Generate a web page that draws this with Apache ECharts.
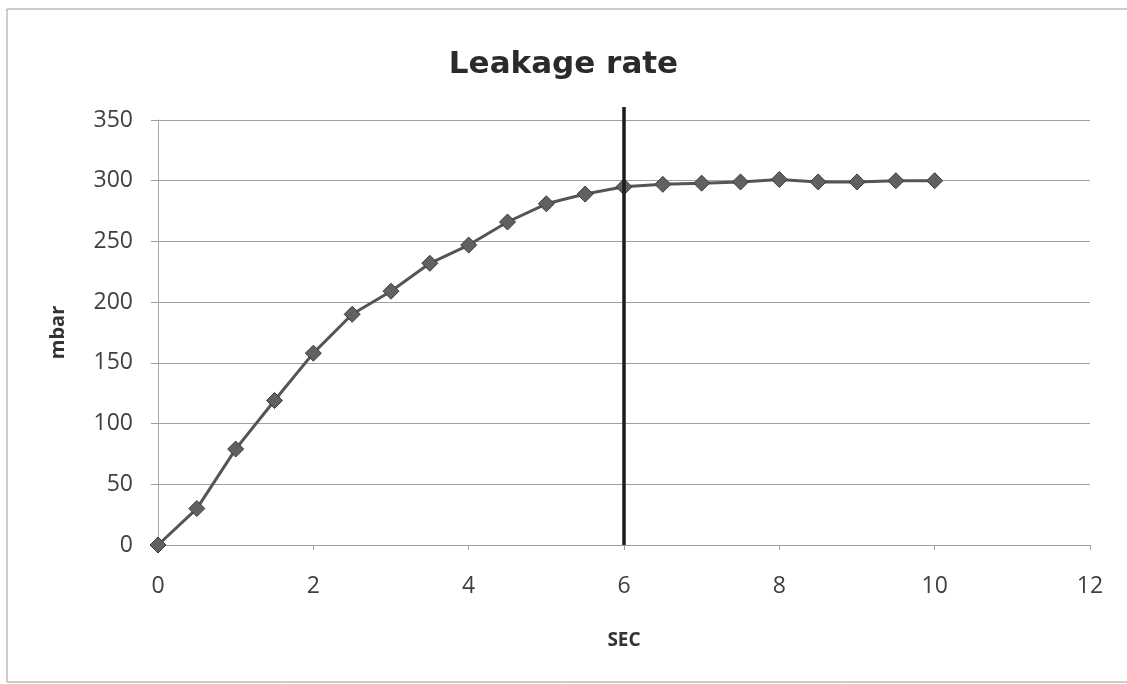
<!DOCTYPE html>
<html>
<head>
<meta charset="utf-8">
<script src="https://cdn.jsdelivr.net/npm/echarts@6/dist/echarts.min.js"></script>
<style>
html,body{margin:0;padding:0;background:#fff;}
#c{width:1127px;height:684px;}
</style>
</head>
<body>
<div id="c"></div>
<script>
const titleText = "Leakage rate";
const xName = "SEC";
const yName = "mbar";
const seconds = [0,0.5,1,1.5,2,2.5,3,3.5,4,4.5,5,5.5,6,6.5,7,7.5,8,8.5,9,9.5,10];
const mbar = [0,30,79,119,158,190,209,232,247,266,281,289,295,297,298,299,301,299,299,300,300];
const markerX = [6, 6];
const markerY = [0, 1];

const chart = echarts.init(document.getElementById('c'));
const tickFont = { fontFamily: 'Open Sans', fontSize: 23, color: '#404040' };
chart.setOption({
  backgroundColor: '#fff',
  animation: false,
  title: {
    text: titleText, left: 'center', top: 44,
    textStyle: { fontFamily: 'DejaVu Sans', fontWeight: 'bold', fontSize: 31, color: '#2a2a2a' }
  },
  graphic: [{
    type: 'rect', shape: { x: 7, y: 9, width: 1160, height: 673 },
    style: { fill: 'none', stroke: '#9a9a9a', lineWidth: 1 }, silent: true, z: -10
  }],
  grid: [
    { left: 158, right: 37, top: 120, bottom: 139 },
    { left: 158, right: 37, top: 107, bottom: 139 }
  ],
  xAxis: [{
    type: 'value', gridIndex: 0, min: 0, max: 12, interval: 2,
    name: xName, nameLocation: 'middle', nameGap: 86,
    nameTextStyle: { fontFamily: 'Open Sans', fontWeight: 'bold', fontSize: 19, color: '#333' },
    axisLine: { show: true, lineStyle: { color: '#a0a0a0', width: 1 } },
    axisTick: { show: true, inside: false, length: 5, lineStyle: { color: '#a0a0a0' } },
    axisLabel: Object.assign({ margin: 30 }, tickFont),
    splitLine: { show: false }
  }, {
    type: 'value', gridIndex: 1, min: 0, max: 12, interval: 2, show: false
  }],
  yAxis: [{
    type: 'value', gridIndex: 0, min: 0, max: 350, interval: 50,
    name: yName, nameLocation: 'middle', nameGap: 90, nameRotate: 90,
    nameTextStyle: { fontFamily: 'Open Sans', fontWeight: 'bold', fontSize: 20, color: '#333' },
    axisLine: { show: true, lineStyle: { color: '#a8a8a8', width: 1 } },
    axisTick: { show: true, inside: false, length: 7, lineStyle: { color: '#a0a0a0' } },
    axisLabel: Object.assign({ margin: 25 }, tickFont),
    splitLine: { show: true, lineStyle: { color: '#a0a0a0', width: 1 } }
  }, {
    type: 'value', gridIndex: 1, min: 0, max: 1, show: false
  }],
  series: [{
    type: 'line', xAxisIndex: 0, yAxisIndex: 0,
    data: seconds.map((s, i) => [s, mbar[i]]),
    symbol: 'diamond', symbolSize: 16,
    lineStyle: { color: '#555555', width: 3 },
    itemStyle: { color: '#5e635e', borderColor: '#3a3a3a', borderWidth: 1 },
    z: 3
  }, {
    type: 'line', xAxisIndex: 1, yAxisIndex: 1,
    data: markerX.map((x, i) => [x, markerY[i]]),
    symbol: 'none',
    lineStyle: { color: '#1c1c1c', width: 3.5 },
    z: 5, silent: true
  }]
});
</script>
</body>
</html>
